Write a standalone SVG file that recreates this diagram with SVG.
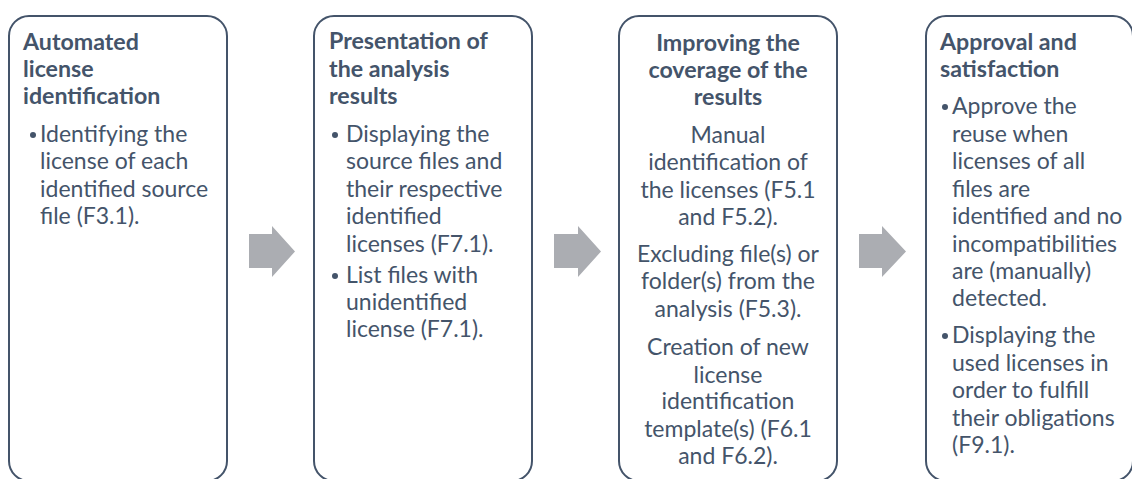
<svg xmlns="http://www.w3.org/2000/svg" width="1132" height="479" viewBox="0 0 1132 479">
  <style>
    .box { fill: #ffffff; stroke: #44546A; stroke-width: 2; }
    .title { font-family: Lato, "Liberation Sans", sans-serif; font-weight: bold; font-size: 23.2px; fill: #44546A; }
    .body { font-family: Lato, "Liberation Sans", sans-serif; font-size: 23px; fill: #44546A; }
    .mid { text-anchor: middle; }
    .dot { fill: #44546A; }
    .arrow { fill: #ABADB2; }
  </style>
  <rect width="1132" height="479" fill="#ffffff"/>

  <!-- Step 1 -->
  <g id="step-automated-identification">
    <rect class="box" x="9" y="16" width="218" height="465" rx="20"/>
    <text class="title" x="23" y="50">Automated</text>
    <text class="title" x="23" y="77">license</text>
    <text class="title" x="23" y="104">identification</text>
    <circle class="dot" cx="33" cy="135" r="3"/>
    <text class="body" x="40" y="142">Identifying the</text>
    <text class="body" x="40" y="169">license of each</text>
    <text class="body" x="40" y="197">identified source</text>
    <text class="body" x="40" y="224">file (F3.1).</text>
  </g>

  <!-- Step 2 -->
  <g id="step-presentation">
    <rect class="box" x="314" y="16" width="218" height="465" rx="20"/>
    <text class="title" x="329" y="49">Presentation of</text>
    <text class="title" x="329" y="77">the analysis</text>
    <text class="title" x="329" y="104">results</text>
    <circle class="dot" cx="335" cy="135" r="3"/>
    <text class="body" x="346" y="142">Displaying the</text>
    <text class="body" x="346" y="169">source files and</text>
    <text class="body" x="346" y="197">their respective</text>
    <text class="body" x="346" y="224">identified</text>
    <text class="body" x="346" y="252">licenses (F7.1).</text>
    <circle class="dot" cx="335" cy="276" r="3"/>
    <text class="body" x="346" y="283">List files with</text>
    <text class="body" x="346" y="310">unidentified</text>
    <text class="body" x="346" y="337">license (F7.1).</text>
  </g>

  <!-- Step 3 -->
  <g id="step-coverage">
    <rect class="box" x="619" y="16" width="218" height="465" rx="20"/>
    <text class="title mid" x="728" y="51">Improving the</text>
    <text class="title mid" x="728" y="78">coverage of the</text>
    <text class="title mid" x="728" y="105">results</text>
    <text class="body mid" x="728" y="143">Manual</text>
    <text class="body mid" x="728" y="170">identification of</text>
    <text class="body mid" x="728" y="198">the licenses (F5.1</text>
    <text class="body mid" x="728" y="225">and F5.2).</text>
    <text class="body mid" x="728" y="262">Excluding file(s) or</text>
    <text class="body mid" x="728" y="289">folder(s) from the</text>
    <text class="body mid" x="728" y="317">analysis (F5.3).</text>
    <text class="body mid" x="728" y="355">Creation of new</text>
    <text class="body mid" x="728" y="383">license</text>
    <text class="body mid" x="728" y="409">identification</text>
    <text class="body mid" x="728" y="437">template(s) (F6.1</text>
    <text class="body mid" x="728" y="464">and F6.2).</text>
  </g>

  <!-- Step 4 -->
  <g id="step-approval">
    <rect class="box" x="926" y="16" width="207" height="465" rx="20"/>
    <text class="title" x="940" y="50">Approval and</text>
    <text class="title" x="940" y="77">satisfaction</text>
    <circle class="dot" cx="945" cy="107" r="3"/>
    <text class="body" x="952" y="114">Approve the</text>
    <text class="body" x="952" y="142">reuse when</text>
    <text class="body" x="952" y="169">licenses of all</text>
    <text class="body" x="952" y="197">files are</text>
    <text class="body" x="952" y="224">identified and no</text>
    <text class="body" x="952" y="252">incompatibilities</text>
    <text class="body" x="952" y="279">are (manually)</text>
    <text class="body" x="952" y="306">detected.</text>
    <circle class="dot" cx="945" cy="336" r="3"/>
    <text class="body" x="952" y="343">Displaying the</text>
    <text class="body" x="952" y="371">used licenses in</text>
    <text class="body" x="952" y="398">order to fulfill</text>
    <text class="body" x="952" y="426">their obligations</text>
    <text class="body" x="952" y="453">(F9.1).</text>
  </g>

  <!-- Block arrows between steps -->
  <g id="connectors">
    <polygon class="arrow" points="249,234 272,234 272,226 295,251.5 272,277 272,268 249,268"/>
    <polygon class="arrow" points="554,234 578,234 578,226 601,251.5 578,277 578,268 554,268"/>
    <polygon class="arrow" points="859,234 882,234 882,226 906,251.5 882,277 882,268 859,268"/>
  </g>
</svg>
